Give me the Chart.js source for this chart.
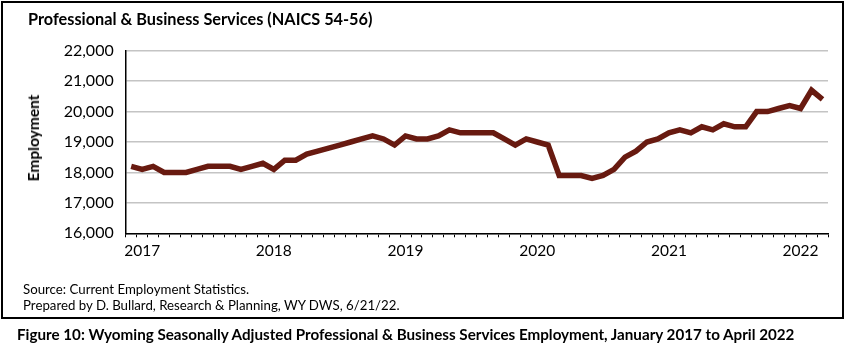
<!DOCTYPE html>
<html>
<head>
<meta charset="utf-8">
<script src="https://cdn.jsdelivr.net/npm/chart.js@4.4.1/dist/chart.umd.min.js"></script>
<style>
  body { margin: 0; background: #fff; font-family: Lato, "Open Sans", sans-serif; color: #000; }
  #wrap { position: relative; width: 850px; height: 348px; overflow: hidden; }
  #frame { position: absolute; left: 1px; top: 1px; width: 839px; height: 314px; border: 2px solid #000; }
  #chart { position: absolute; left: 0; top: 0; }
  .txt { position: absolute; white-space: nowrap; }
  #title { left: 28px; top: 9px; font-size: 16.3px; font-weight: bold; }
  #ytitle { left: 33px; top: 137.5px; font-size: 15.5px; font-weight: bold; transform: translate(-50%, -50%) rotate(-90deg); }
  #source { left: 23px; top: 282px; font-size: 13.25px; line-height: 15.5px; }
  #caption { left: 17px; top: 325px; font-size: 15.2px; font-weight: bold; }
</style>
</head>
<body>
<div id="wrap">
  <div id="frame"></div>
  <canvas id="chart" width="850" height="348"></canvas>
  <div class="txt" id="title">Professional &amp; Business Services (NAICS 54-56)</div>
  <div class="txt" id="ytitle">Employment</div>
  <div class="txt" id="source">Source: Current Employment Statistics.<br>Prepared by D. Bullard, Research &amp; Planning, WY DWS, 6/21/22.</div>
  <div class="txt" id="caption">Figure 10: Wyoming Seasonally Adjusted Professional &amp; Business Services Employment, January 2017 to April 2022</div>
</div>
<script>
// Monthly employment, seasonally adjusted
const years = ['2017', '2018', '2019', '2020', '2021', '2022'];
const emp2017 = [18200, 18100, 18200, 18000, 18000, 18000, 18100, 18200, 18200, 18200, 18100, 18200];
const emp2018 = [18300, 18100, 18400, 18400, 18600, 18700, 18800, 18900, 19000, 19100, 19200, 19100];
const emp2019 = [18900, 19200, 19100, 19100, 19200, 19400, 19300, 19300, 19300, 19300, 19100, 18900];
const emp2020 = [19100, 19000, 18900, 17900, 17900, 17900, 17800, 17900, 18100, 18500, 18700, 19000];
const emp2021 = [19100, 19300, 19400, 19300, 19500, 19400, 19600, 19500, 19500, 20000, 20000, 20100];
const emp2022 = [20200, 20100, 20700, 20400];
const monthNames = ['Jan', 'Feb', 'Mar', 'Apr', 'May', 'Jun', 'Jul', 'Aug', 'Sep', 'Oct', 'Nov', 'Dec'];

const employment = [].concat(emp2017, emp2018, emp2019, emp2020, emp2021, emp2022);
const labels = employment.map((v, i) => monthNames[i % 12] + ' ' + years[Math.floor(i / 12)]);

const font = { family: 'Lato, "Open Sans", sans-serif' };

new Chart(document.getElementById('chart'), {
  type: 'line',
  data: {
    labels: labels,
    datasets: [{
      data: employment,
      borderColor: '#681a10',
      borderWidth: 5.5,
      pointRadius: 0,
      tension: 0,
      fill: false
    }]
  },
  options: {
    responsive: false,
    animation: false,
    layout: { padding: { left: 0, top: 50.7, right: 22, bottom: 84.7 } },
    plugins: { legend: { display: false }, tooltip: { enabled: false } },
    scales: {
      x: {
        offset: true,
        afterFit: (scale) => { scale.height = 30; },
        grid: { offset: true, drawOnChartArea: false, drawTicks: true, tickLength: 4, color: '#000', lineWidth: 1 },
        border: { color: '#000', width: 1.5 },
        ticks: {
          autoSkip: false,
          maxRotation: 0,
          minRotation: 0,
          padding: 4,
          color: '#000',
          font: { ...font, size: 15.5 },
          // year label sits one month in, under February
          callback: (value, index) => index % 12 === 1 ? years[Math.floor(index / 12)] : ''
        }
      },
      y: {
        min: 16000,
        max: 22000,
        afterFit: (scale) => { scale.width = 125.7; },
        grid: { drawTicks: false, color: '#c4c4c4', lineWidth: 1.5 },
        border: { color: '#000', width: 1.5 },
        ticks: {
          stepSize: 1000,
          padding: 12,
          color: '#000',
          font: { ...font, size: 16 },
          callback: (value) => value.toLocaleString('en-US')
        }
      }
    }
  }
});
</script>
</body>
</html>
